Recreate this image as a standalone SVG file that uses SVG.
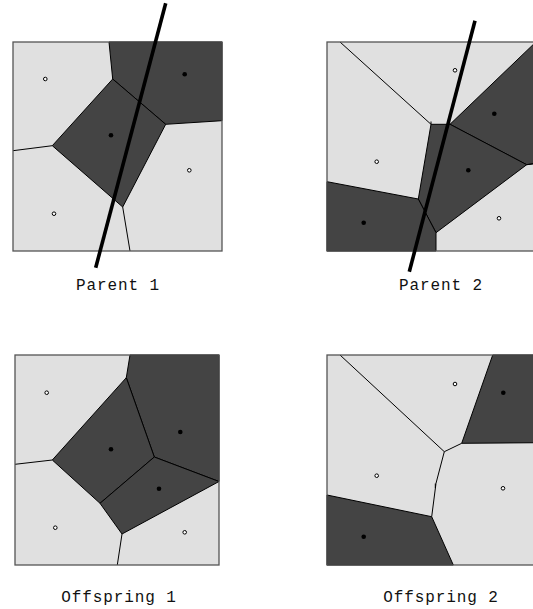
<svg xmlns="http://www.w3.org/2000/svg" width="533" height="609" viewBox="0 0 533 609">
<style>
.bg{fill:#e0e0e0;stroke:none}
.dk{fill:#444444;stroke:#000;stroke-width:1;stroke-linejoin:round}
.ln{fill:none;stroke:#000;stroke-width:1}
.frame{fill:none;stroke:#555555;stroke-width:1.3}
.cut{fill:none;stroke:#000;stroke-width:3.6;stroke-linecap:butt}
.o{fill:#fff;stroke:#000;stroke-width:1}
.d{fill:#000}
.lbl{font-family:"Liberation Mono","DejaVu Sans Mono",monospace;font-size:16px;letter-spacing:0.9px;fill:#111;text-anchor:middle}
</style>
<rect width="533" height="609" fill="#fff"/>

<g id="parent1">
  <rect class="bg" x="13" y="42" width="209" height="209"/>
  <polygon class="dk" points="109,42 222,42 222,120.7 165.7,124.3 112.7,79"/>
  <polygon class="dk" points="112.7,79 165.7,124.3 122.7,207 52.3,145.7"/>
  <line class="ln" x1="52.3" y1="145.7" x2="13" y2="150.7"/>
  <line class="ln" x1="122.7" y1="207" x2="130" y2="251"/>
  <rect class="frame" x="13" y="42" width="209" height="209"/>
  <circle class="o" cx="45.3" cy="79" r="1.8"/>
  <circle class="o" cx="189.3" cy="170.3" r="1.8"/>
  <circle class="o" cx="54" cy="213.7" r="1.8"/>
  <circle class="d" cx="184.7" cy="74.3" r="2.3"/>
  <circle class="d" cx="111" cy="135.3" r="2.3"/>
  <text class="lbl" x="118" y="290">Parent 1</text>
</g>

<g id="parent2">
  <rect class="bg" x="327" y="42" width="213" height="209"/>
  <polygon class="dk" points="450,124.3 540,38 540,163 526.7,164.7"/>
  <polygon class="dk" points="431,124.3 450,124.3 526.7,164.7 436,232.7 418.3,199"/>
  <polygon class="dk" points="327,181.7 418.3,199 436,232.7 436,251 327,251"/>
  <line class="ln" x1="340" y1="42" x2="431" y2="124.3"/>
  <line class="ln" x1="431" y1="121.5" x2="431" y2="124.3"/>
  <line class="ln" x1="526.7" y1="164.7" x2="540" y2="162.5"/>
  <rect class="frame" x="327" y="42" width="213" height="209"/>
  <circle class="o" cx="455" cy="70.3" r="1.8"/>
  <circle class="o" cx="376.7" cy="161.7" r="1.8"/>
  <circle class="o" cx="499" cy="218.3" r="1.8"/>
  <circle class="d" cx="494.3" cy="113.7" r="2.3"/>
  <circle class="d" cx="468.3" cy="170.3" r="2.3"/>
  <circle class="d" cx="363.7" cy="222.7" r="2.3"/>
  <text class="lbl" x="441" y="290">Parent 2</text>
</g>

<g id="offspring1">
  <rect class="bg" x="15" y="355" width="204" height="210"/>
  <polygon class="dk" points="130,355 219,355 219,481.5 154.3,457 126.3,377.7"/>
  <polygon class="dk" points="126.3,377.7 154.3,457 100,503.3 52.3,460"/>
  <polygon class="dk" points="154.3,457 219,481.5 122,534 100,503.3"/>
  <line class="ln" x1="52.3" y1="460" x2="15" y2="464.3"/>
  <line class="ln" x1="122" y1="534" x2="117.3" y2="565"/>
  <rect class="frame" x="15" y="355" width="204" height="210"/>
  <circle class="o" cx="46.7" cy="392.7" r="1.8"/>
  <circle class="o" cx="55.3" cy="527.7" r="1.8"/>
  <circle class="o" cx="184.7" cy="532.3" r="1.8"/>
  <circle class="d" cx="111" cy="449.3" r="2.3"/>
  <circle class="d" cx="180.3" cy="432" r="2.3"/>
  <circle class="d" cx="159" cy="488.7" r="2.3"/>
  <text class="lbl" x="119" y="601.5">Offspring 1</text>
</g>

<g id="offspring2">
  <rect class="bg" x="327" y="355" width="213" height="210"/>
  <polygon class="dk" points="492.7,355 540,355 540,442.7 461.7,443.3"/>
  <polygon class="dk" points="327,495 431.7,516.7 453.3,565 327,565"/>
  <polyline class="ln" points="340,355 444.3,451.7 461.7,443.3"/>
  <polyline class="ln" points="444.3,451.7 436,483.3 431.7,516.7"/>
  <line class="ln" x1="435.3" y1="483.5" x2="435.3" y2="488"/>
  <rect class="frame" x="327" y="355" width="213" height="210"/>
  <circle class="o" cx="455" cy="384" r="1.8"/>
  <circle class="o" cx="376.7" cy="475.7" r="1.8"/>
  <circle class="o" cx="503" cy="488.3" r="1.8"/>
  <circle class="d" cx="503.3" cy="392.7" r="2.3"/>
  <circle class="d" cx="363.7" cy="536.7" r="2.3"/>
  <text class="lbl" x="441" y="601.5">Offspring 2</text>
</g>

<g id="connectors">
  <line class="cut" x1="165.7" y1="3.3" x2="95.7" y2="267.7"/>
  <line class="cut" x1="475" y1="20.7" x2="409.3" y2="271.7"/>
</g>
</svg>
